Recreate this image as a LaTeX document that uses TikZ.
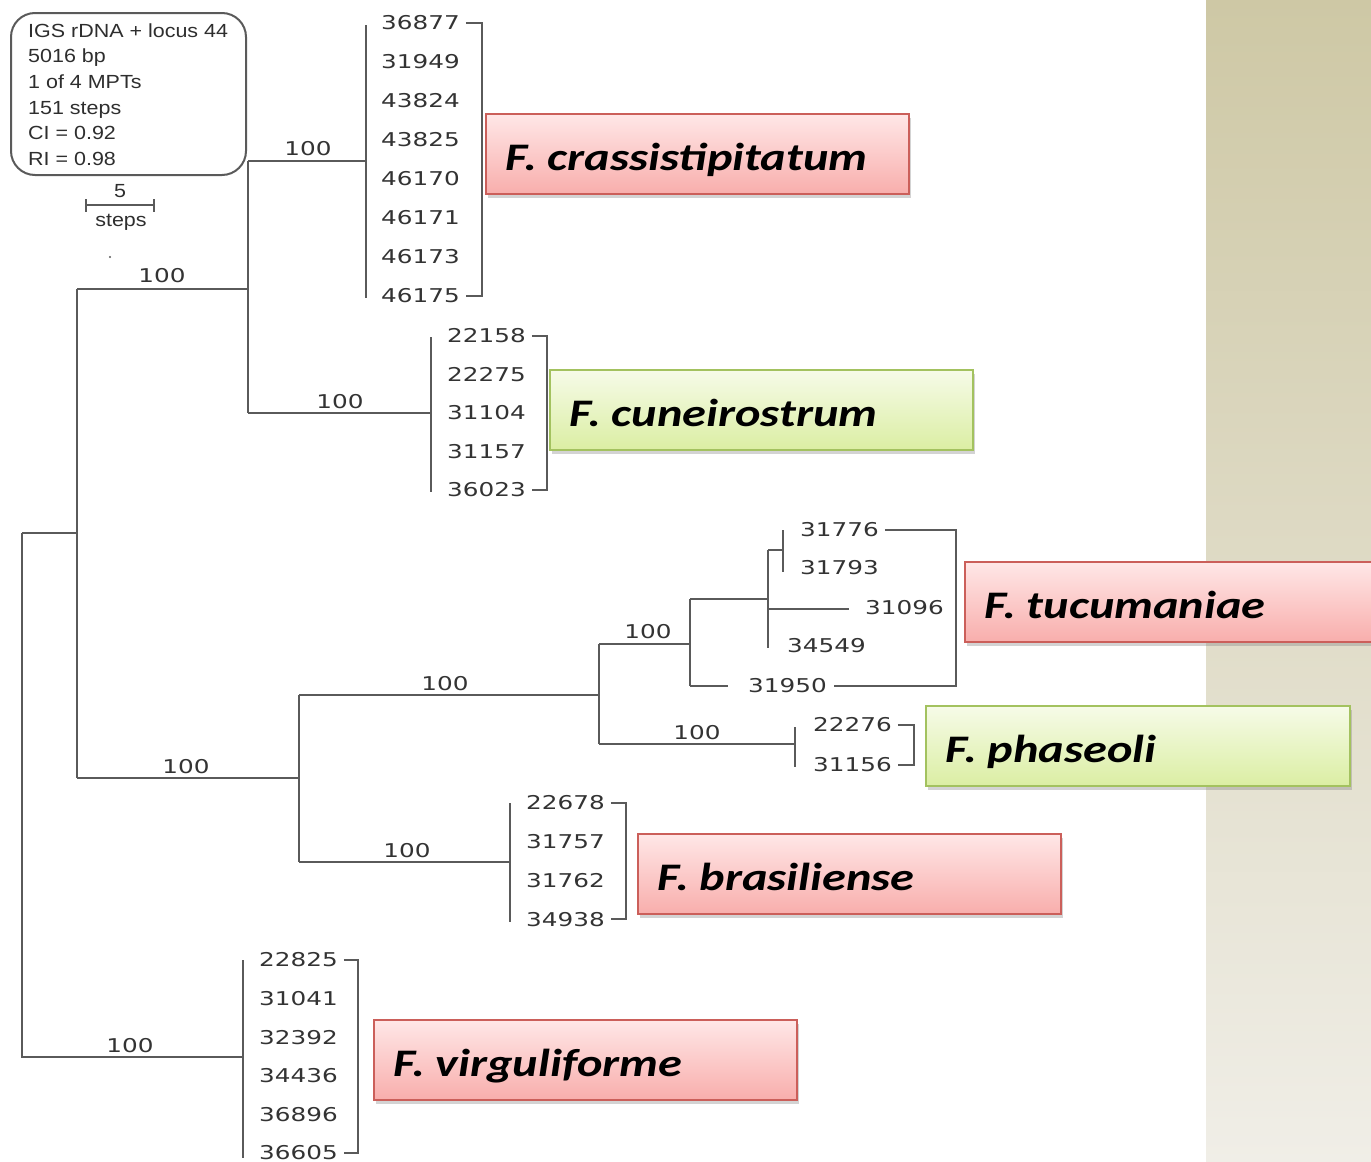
\documentclass[tikz,border=0pt]{standalone}
\usepackage{fontspec}
\usetikzlibrary{shadows,calc}
\newfontfamily\numfont[FakeStretch=1.3]{DejaVu Sans}
\newfontfamily\infofont[FakeStretch=1.13]{Liberation Sans}
\newfontfamily\spfont[FakeStretch=1.24]{Carlito}
\definecolor{treeline}{HTML}{5A5A5A}
\definecolor{numcol}{HTML}{333333}
\definecolor{infocol}{HTML}{2E2E2E}
\definecolor{redtop}{HTML}{FFE7E7}
\definecolor{redbot}{HTML}{F8AEAC}
\definecolor{redborder}{HTML}{CB5F5A}
\definecolor{greentop}{HTML}{F6FBE8}
\definecolor{greenbot}{HTML}{DBEEA3}
\definecolor{greenborder}{HTML}{A3C25F}
\definecolor{paneltop}{HTML}{CEC8A5}
\definecolor{panelbot}{HTML}{F0EEE7}
\tikzset{
  tree/.style={draw=treeline, line width=2pt},
  num/.style={font=\numfont\fontsize{19}{19}\selectfont, text=numcol, inner sep=0pt, anchor=west},
  bs/.style={font=\numfont\fontsize{19}{19}\selectfont, text=numcol, inner sep=0pt},
  info/.style={font=\infofont\fontsize{19}{19}\selectfont, text=infocol, inner sep=0pt, anchor=base west},
  spbox/.style={line width=1.8pt, minimum width=423pt, minimum height=80pt, anchor=north west, inner sep=0pt,
    drop shadow={shadow xshift=2pt, shadow yshift=-4pt, opacity=0.35}},
  redbox/.style={spbox, draw=redborder, top color=redtop, bottom color=redbot},
  greenbox/.style={spbox, draw=greenborder, top color=greentop, bottom color=greenbot},
  sptext/.style={font=\spfont\bfseries\itshape\fontsize{39}{39}\selectfont, text=black, inner sep=0pt, anchor=base west},
}
\begin{document}
\begin{tikzpicture}[x=1pt,y=-1pt]
\useasboundingbox (0,0) rectangle (1371,1162);
% background panel
\path[top color=paneltop, bottom color=panelbot] (1206,0) rectangle (1371,1162);

% info box
\node[draw=treeline, line width=2pt, rounded corners=24pt, minimum width=235pt, minimum height=162pt, anchor=north west] (infobox) at (10,12) {};
\node[info] (i1) at (28,37) {IGS rDNA + locus 44};
\node[info] (i2) at (28,62.7) {5016 bp};
\node[info] (i3) at (28,88.4) {1 of 4 MPTs};
\node[info] (i4) at (28,114.1) {151 steps};
\node[info] (i5) at (28,139.8) {CI = 0.92};
\node[info] (i6) at (28,165.5) {RI = 0.98};

% scale bar
\coordinate (sb1) at (86,205);
\coordinate (sb2) at (154,205);
\draw[tree, line width=1.5pt] (sb1) -- (sb2);
\draw[tree, line width=1.5pt] ($(sb1)+(0,-6)$) -- ($(sb1)+(0,7)$);
\draw[tree, line width=1.5pt] ($(sb2)+(0,-6)$) -- ($(sb2)+(0,7)$);
\node[info, anchor=base] (sb5) at (120,197) {5};
\node[info, anchor=base] (sbs) at (121,226) {steps};
\fill[treeline] (110,257) circle (1.2pt);

% taxa
\foreach \t [count=\i] in {36877,31949,43824,43825,46170,46171,46173,46175}
  \node[num] (cr\i) at (381,{23+(\i-1)*39}) {\t};
\foreach \t [count=\i] in {22158,22275,31104,31157,36023}
  \node[num] (cu\i) at (447,{336+(\i-1)*38.5}) {\t};
\node[num] (tu1) at (800,530) {31776};
\node[num] (tu2) at (800,568) {31793};
\node[num] (tu3) at (865,608) {31096};
\node[num] (tu4) at (787,646) {34549};
\node[num] (tu5) at (748,686) {31950};
\node[num] (ph1) at (813,725) {22276};
\node[num] (ph2) at (813,765) {31156};
\foreach \t [count=\i] in {22678,31757,31762,34938}
  \node[num] (br\i) at (526,{803+(\i-1)*38.7}) {\t};
\foreach \t [count=\i] in {22825,31041,32392,34436,36896,36605}
  \node[num] (vg\i) at (259,{960+(\i-1)*38.6}) {\t};

% tree coordinates
\coordinate (r) at (22,533);
\coordinate (n1) at (77,533);
\coordinate (n1t) at (77,289);
\coordinate (n1b) at (77,778);
\coordinate (n2m) at (248,289);
\coordinate (n2t) at (248,161);
\coordinate (n2b) at (248,413);
\coordinate (crv) at (366,161);
\coordinate (cuv) at (431,413);
\coordinate (n3m) at (299,778);
\coordinate (n3t) at (299,695);
\coordinate (n3b) at (299,862);
\coordinate (n4m) at (599,695);
\coordinate (n4t) at (599,644);
\coordinate (n4b) at (599,744);
\coordinate (n5m) at (690,644);
\coordinate (n5t) at (690,599);
\coordinate (n5b) at (690,686);
\coordinate (n6) at (768,599);
\coordinate (n6t) at (768,550);
\coordinate (n6b) at (768,648);
\coordinate (n7) at (783,550);
\coordinate (b096) at (768,609);
\coordinate (e096) at (849,609);
\coordinate (e950) at (728,686);
\coordinate (phv) at (795,744);
\coordinate (brv) at (510,862);
\coordinate (vgv) at (243,1057);
\coordinate (tubr) at (956,530);

% tree lines
\draw[tree] (r) -- (n1);
\draw[tree] (n1t) -- (n1b);
\draw[tree] (r) |- (vgv);
\draw[tree] (n1t) -- (n2m);
\draw[tree] (n2t) -- (n2b);
\draw[tree] (n2t) -- (crv);
\draw[tree] (n2b) -- (cuv);
\draw[tree] (366,25) -- (366,298);
\draw[tree] (431,337) -- (431,492);
\draw[tree] (n1b) -- (n3m);
\draw[tree] (n3t) -- (n3b);
\draw[tree] (n3t) -- (n4m);
\draw[tree] (n3b) -- (brv);
\draw[tree] (n4t) -- (n4b);
\draw[tree] (n4t) -- (n5m);
\draw[tree] (n4b) -- (phv);
\draw[tree] (n5t) -- (n5b);
\draw[tree] (n5t) -- (n6);
\draw[tree] (n5b) -- (e950);
\draw[tree] (n6t) -- (n6b);
\draw[tree] (n6t) -- (n7);
\draw[tree] (783,530) -- (783,572);
\draw[tree] (b096) -- (e096);
\draw[tree] (795,727) -- (795,767);
\draw[tree] (510,803) -- (510,922);
\draw[tree] (243,960) -- (243,1158);

% brackets
\draw[tree] ([xshift=6pt]cr1.east) -- ++(16,0) |- ([xshift=6pt]cr8.east);
\draw[tree] ([xshift=6pt]cu1.east) -- ++(15,0) |- ([xshift=6pt]cu5.east);
\draw[tree] ([xshift=6pt]tu1.east) -- (tubr) |- ([xshift=7pt]tu5.east);
\draw[tree] ([xshift=6pt]ph1.east) -- ++(16,0) |- ([xshift=6pt]ph2.east);
\draw[tree] ([xshift=6pt]br1.east) -- ++(15,0) |- ([xshift=6pt]br4.east);
\draw[tree] ([xshift=6pt]vg1.east) -- ++(14,0) |- ([xshift=6pt]vg6.east);

% bootstrap values
\node[bs] (bs1) at (308,149) {100};
\node[bs] (bs2) at (162,276) {100};
\node[bs] (bs3) at (340,402) {100};
\node[bs] (bs4) at (186,767) {100};
\node[bs] (bs5) at (445,684) {100};
\node[bs] (bs6) at (648,632) {100};
\node[bs] (bs7) at (697,733) {100};
\node[bs] (bs8) at (407,851) {100};
\node[bs] (bs9) at (130,1046) {100};

% species boxes
\node[redbox] (bcr) at (485,113) {};
\node[sptext] (tcr) at ($(bcr.north west)+(20,57)$) {F. crassistipitatum};
\node[greenbox] (bcu) at (549,369) {};
\node[sptext] (tcu) at ($(bcu.north west)+(20,57)$) {F. cuneirostrum};
\node[redbox, minimum width=440pt] (btu) at (964,561) {};
\node[sptext] (ttu) at ($(btu.north west)+(20,57)$) {F. tucumaniae};
\node[greenbox, minimum width=424pt] (bph) at (925,705) {};
\node[sptext] (tph) at ($(bph.north west)+(20,57)$) {F. phaseoli};
\node[redbox] (bbr) at (637,833) {};
\node[sptext] (tbr) at ($(bbr.north west)+(20,57)$) {F. brasiliense};
\node[redbox] (bvg) at (373,1019) {};
\node[sptext] (tvg) at ($(bvg.north west)+(20,57)$) {F. virguliforme};
\end{tikzpicture}
\end{document}
